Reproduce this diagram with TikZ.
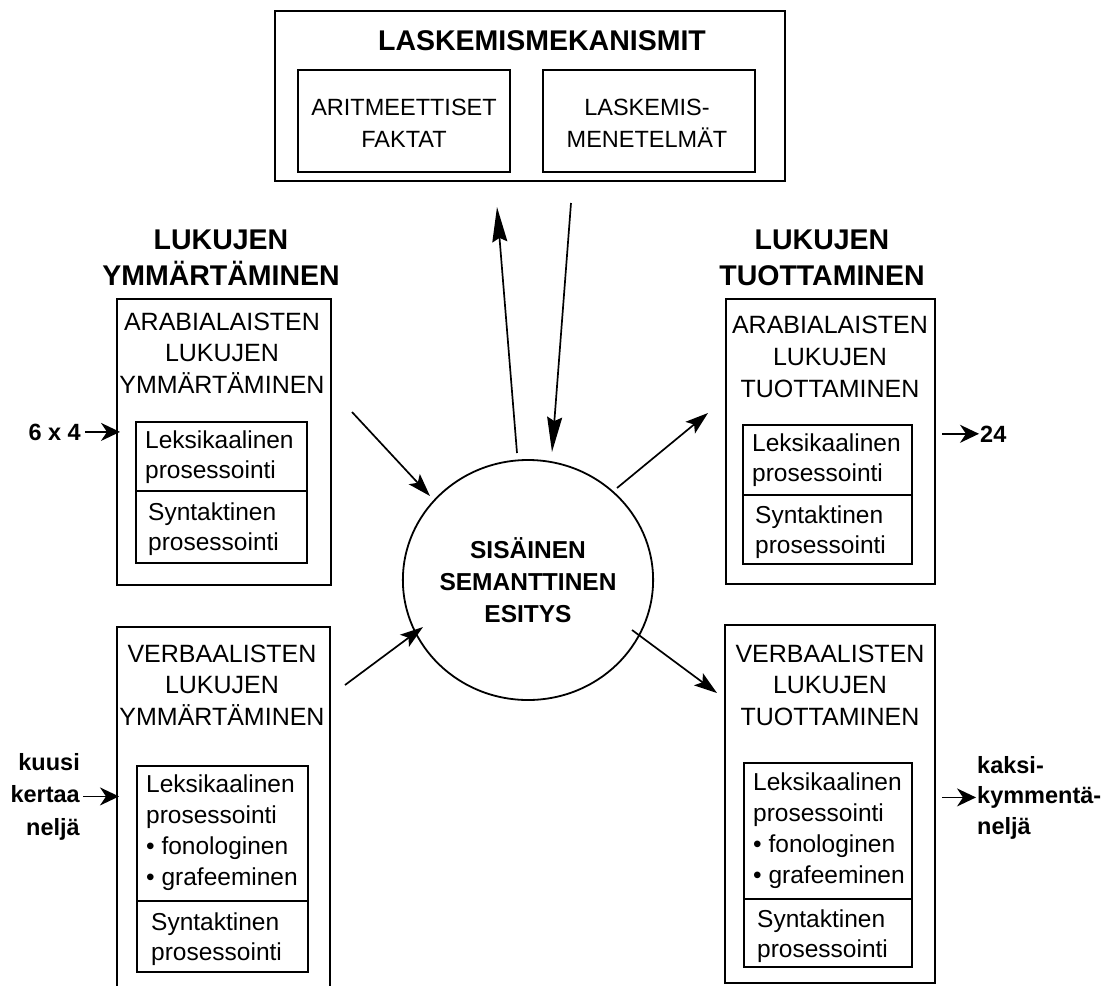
\documentclass[tikz,border=0pt]{standalone}
\usepackage{fontspec}
\setmainfont{Liberation Sans}
\usetikzlibrary{arrows.meta,shapes.geometric,calc}
\begin{document}
\begin{tikzpicture}[x=1pt,y=-1pt,
  box/.style={draw, line width=1.8pt, inner sep=0pt, outer sep=0pt, anchor=north west},
  btitle/.style={font=\bfseries\fontsize{28.5}{35.5}\selectfont, align=center, anchor=base, inner sep=0pt},
  boxtxt/.style={font=\fontsize{25}{31.5}\selectfont, align=center, anchor=base, inner sep=0pt},
  toptxt/.style={font=\fontsize{23.5}{32}\selectfont, align=center, anchor=base, inner sep=0pt},
  subtxt/.style={font=\fontsize{24.5}{30}\selectfont, align=left, anchor=base west, inner sep=0pt},
  iotxt/.style={font=\bfseries\fontsize{23.5}{32.5}\selectfont, inner sep=0pt},
  semtxt/.style={font=\bfseries\fontsize{24.5}{32}\selectfont, align=center},
  diag/.style={line width=1.7pt, -{Stealth[length=23pt,width=15pt,inset=5pt]}},
  vert/.style={line width=1.7pt, -{Stealth[length=35pt,width=15pt,inset=4pt]}},
  side/.style={line width=1.7pt, -{Stealth[length=19pt,width=18pt,inset=6pt]}}
]
\path[use as bounding box, fill=white] (0,0) rectangle (1104,986);

% top box
\node[box, minimum width=510, minimum height=170] (mech) at (275,11) {};
\node[box, minimum width=212, minimum height=102] (facts) at (298,70) {};
\node[box, minimum width=212, minimum height=102] (meth) at (543,70) {};
\node[btitle] (mechT) at (542,50) {LASKEMISMEKANISMIT};
\node[toptxt] (factsT) at (404,147) {ARITMEETTISET\\FAKTAT};
\node[toptxt] (methT) at (647,147) {LASKEMIS-\\MENETELMÄT};

% column titles
\node[btitle] (lefttitle) at (221,285) {LUKUJEN\\YMMÄRTÄMINEN};
\node[btitle] (righttitle) at (822,285) {LUKUJEN\\TUOTTAMINEN};

% upper left
\node[box, minimum width=214, minimum height=286] (arabL) at (117,299) {};
\node[boxtxt] (arabLT) at (222,393) {ARABIALAISTEN\\LUKUJEN\\YMMÄRTÄMINEN};
\node[box, minimum width=171, minimum height=69] (arabLlex) at (136,422) {};
\node[box, minimum width=171, minimum height=72] (arabLsyn) at (136,491) {};
\node[subtxt] (arabLlexT) at (145,478) {Leksikaalinen\\prosessointi};
\node[subtxt] (arabLsynT) at (148,550) {Syntaktinen\\prosessointi};

% lower left
\node[box, minimum width=213, minimum height=380] (verbL) at (117,627) {};
\node[boxtxt] (verbLT) at (222,725) {VERBAALISTEN\\LUKUJEN\\YMMÄRTÄMINEN};
\node[box, minimum width=171, minimum height=135] (verbLlex) at (137,766) {};
\node[box, minimum width=171, minimum height=71] (verbLsyn) at (137,901) {};
\node[subtxt, font=\fontsize{24.5}{31}\selectfont] (verbLlexT) at (146,885) {Leksikaalinen\\prosessointi\\• fonologinen\\• grafeeminen};
\node[subtxt] (verbLsynT) at (151,960) {Syntaktinen\\prosessointi};

% upper right
\node[box, minimum width=209, minimum height=285] (arabR) at (726,299) {};
\node[boxtxt, font=\fontsize{25}{32}\selectfont] (arabRT) at (830,397) {ARABIALAISTEN\\LUKUJEN\\TUOTTAMINEN};
\node[box, minimum width=169, minimum height=70] (arabRlex) at (743,425) {};
\node[box, minimum width=169, minimum height=69] (arabRsyn) at (743,495) {};
\node[subtxt] (arabRlexT) at (752,481) {Leksikaalinen\\prosessointi};
\node[subtxt] (arabRsynT) at (755,553) {Syntaktinen\\prosessointi};

% lower right
\node[box, minimum width=210, minimum height=358] (verbR) at (725,625) {};
\node[boxtxt] (verbRT) at (830,725) {VERBAALISTEN\\LUKUJEN\\TUOTTAMINEN};
\node[box, minimum width=168, minimum height=136] (verbRlex) at (744,763) {};
\node[box, minimum width=168, minimum height=68] (verbRsyn) at (744,899) {};
\node[subtxt, font=\fontsize{24.5}{31}\selectfont] (verbRlexT) at (753,883) {Leksikaalinen\\prosessointi\\• fonologinen\\• grafeeminen};
\node[subtxt] (verbRsynT) at (757,957) {Syntaktinen\\prosessointi};

% central ellipse
\node[draw, ellipse, line width=1.8pt, minimum width=228, minimum height=240, inner sep=0pt, semtxt] (sem) at (528,580) {SISÄINEN\\SEMANTTINEN\\ESITYS};

% inputs / outputs
\node[iotxt, anchor=base east] (in1) at (81,440) {6 x 4};
\node[iotxt, align=right, anchor=base east] (in2) at (80,835) {kuusi\\kertaa\\neljä};
\node[iotxt, anchor=base west] (out1) at (980,442) {24};
\node[iotxt, align=left, anchor=base west, font=\bfseries\fontsize{23.5}{30.5}\selectfont] (out2) at (977,834) {kaksi-\\kymmentä-\\neljä};

\draw[side] ([xshift=4pt]in1.east) -- ($(in1.east -| arabL.west)+(3,0)$);
\draw[side] ([xshift=3pt]in2.east) -- ($(in2.east -| verbL.west)+(2,0)$);
\draw[side] ($(arabR.east |- out1.west)+(7,0)$) -- ([xshift=-1pt]out1.west);
\draw[side] ($(verbR.east |- out2.west)+(7,0)$) -- ([xshift=-1pt]out2.west);

% arrows around the centre
\coordinate (ulA) at (352,412);
\coordinate (ulB) at (430,496);
\coordinate (llA) at (345,685);
\coordinate (llB) at (423,627);
\coordinate (urA) at (617,488);
\coordinate (urB) at (708,413);
\coordinate (lrA) at (632,630);
\coordinate (lrB) at (717,693);
\coordinate (upA) at (517,453);
\coordinate (upB) at (497,207);
\coordinate (dnA) at (571,203);
\coordinate (dnB) at (552,452);
\draw[diag] (ulA) -- (ulB);
\draw[diag] (llA) -- (llB);
\draw[diag] (urA) -- (urB);
\draw[diag] (lrA) -- (lrB);
\draw[vert] (upA) -- (upB);
\draw[vert] (dnA) -- (dnB);
\end{tikzpicture}
\end{document}
